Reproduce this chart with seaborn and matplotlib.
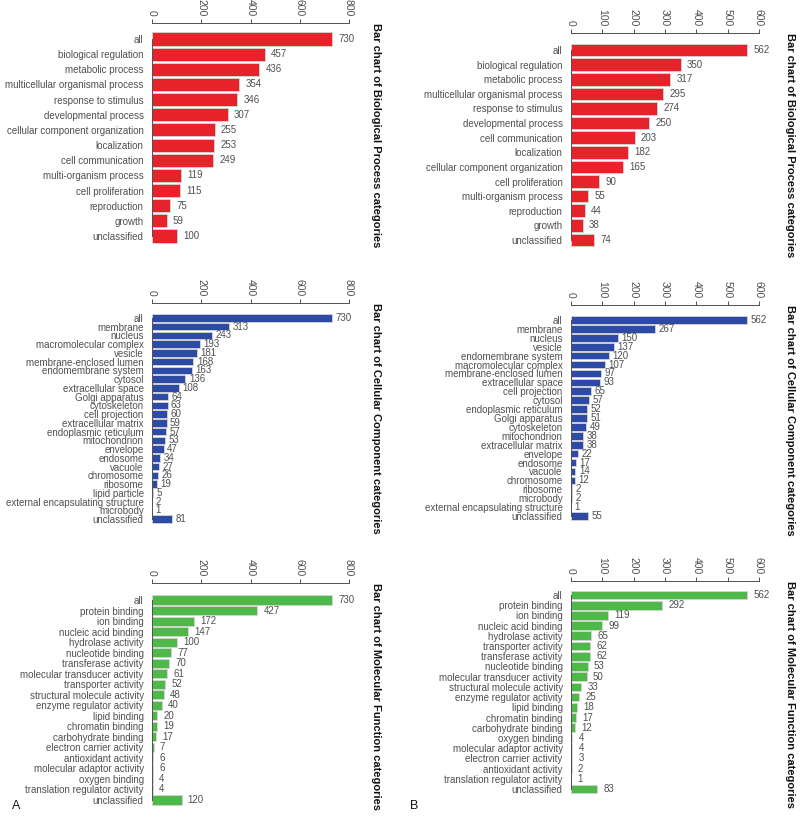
import matplotlib
matplotlib.use('Agg')
import matplotlib.pyplot as plt
import seaborn as sns
import pandas as pd

# --- data ---
bp_a_cats = ['all', 'biological regulation', 'metabolic process', 'multicellular organismal process',
             'response to stimulus', 'developmental process', 'cellular component organization',
             'localization', 'cell communication', 'multi-organism process', 'cell proliferation',
             'reproduction', 'growth', 'unclassified']
bp_a_vals = [730, 457, 436, 354, 346, 307, 255, 253, 249, 119, 115, 75, 59, 100]

bp_b_cats = ['all', 'biological regulation', 'metabolic process', 'multicellular organismal process',
             'response to stimulus', 'developmental process', 'cell communication', 'localization',
             'cellular component organization', 'cell proliferation', 'multi-organism process',
             'reproduction', 'growth', 'unclassified']
bp_b_vals = [562, 350, 317, 295, 274, 250, 203, 182, 165, 90, 55, 44, 38, 74]

cc_a_cats = ['all', 'membrane', 'nucleus', 'macromolecular complex', 'vesicle', 'membrane-enclosed lumen',
             'endomembrane system', 'cytosol', 'extracellular space', 'Golgi apparatus', 'cytoskeleton',
             'cell projection', 'extracellular matrix', 'endoplasmic reticulum', 'mitochondrion', 'envelope',
             'endosome', 'vacuole', 'chromosome', 'ribosome', 'lipid particle',
             'external encapsulating structure', 'microbody', 'unclassified']
cc_a_vals = [730, 313, 243, 193, 181, 168, 163, 136, 108, 64, 63, 60, 59, 57, 53, 47, 34, 27, 26, 19, 5, 2, 1, 81]

cc_b_cats = ['all', 'membrane', 'nucleus', 'vesicle', 'endomembrane system', 'macromolecular complex',
             'membrane-enclosed lumen', 'extracellular space', 'cell projection', 'cytosol',
             'endoplasmic reticulum', 'Golgi apparatus', 'cytoskeleton', 'mitochondrion',
             'extracellular matrix', 'envelope', 'endosome', 'vacuole', 'chromosome', 'ribosome',
             'microbody', 'external encapsulating structure', 'unclassified']
cc_b_vals = [562, 267, 150, 137, 120, 107, 97, 93, 65, 57, 52, 51, 49, 38, 38, 22, 17, 14, 12, 2, 2, 1, 55]

mf_a_cats = ['all', 'protein binding', 'ion binding', 'nucleic acid binding', 'hydrolase activity',
             'nucleotide binding', 'transferase activity', 'molecular transducer activity',
             'transporter activity', 'structural molecule activity', 'enzyme regulator activity',
             'lipid binding', 'chromatin binding', 'carbohydrate binding', 'electron carrier activity',
             'antioxidant activity', 'molecular adaptor activity', 'oxygen binding',
             'translation regulator activity', 'unclassified']
mf_a_vals = [730, 427, 172, 147, 100, 77, 70, 61, 52, 48, 40, 20, 19, 17, 7, 6, 6, 4, 4, 120]

mf_b_cats = ['all', 'protein binding', 'ion binding', 'nucleic acid binding', 'hydrolase activity',
             'transporter activity', 'transferase activity', 'nucleotide binding',
             'molecular transducer activity', 'structural molecule activity', 'enzyme regulator activity',
             'lipid binding', 'chromatin binding', 'carbohydrate binding', 'oxygen binding',
             'molecular adaptor activity', 'electron carrier activity', 'antioxidant activity',
             'translation regulator activity', 'unclassified']
mf_b_vals = [562, 292, 119, 99, 65, 62, 62, 53, 50, 33, 25, 18, 17, 12, 4, 4, 3, 2, 1, 83]

bp_title = 'Bar chart of Biological Process categories'
cc_title = 'Bar chart of Cellular Component categories'
mf_title = 'Bar chart of Molecular Function categories'

ticks_a = [0, 200, 400, 600, 800]
ticks_b = [0, 100, 200, 300, 400, 500, 600]

RED, BLUE, GREEN = '#E6222A', '#2D4AA5', '#4EB849'
TXT = '#505050'

sns.set_style('white')
plt.rcParams['font.family'] = ['Liberation Sans', 'DejaVu Sans']

W, H = 800, 817
fig = plt.figure(figsize=(W / 100, H / 100), dpi=100)


def panel(cats, vals, ticks, color, title, x0, x1, axis_y, first, last, title_x, gap):
    n = len(cats)
    step = (last - first) / (n - 1)
    bottom_px = last + 0.7 * step
    ax = fig.add_axes([x0 / W, 1 - bottom_px / H, (x1 - x0) / W, (bottom_px - axis_y) / H])
    df = pd.DataFrame({'category': cats, 'count': vals})
    sns.barplot(data=df, x='count', y='category', orient='h', color=color, saturation=1,
                width=0.86, edgecolor='#d5d5d5', linewidth=0.6, ax=ax)
    ax.set_xlim(0, ticks[-1])
    ax.set_ylim(n - 1 + 0.7, -(first - axis_y) / step)
    ax.set_xlabel('')
    ax.set_ylabel('')
    ax.xaxis.set_ticks_position('top')
    ax.set_xticks(ticks)
    ax.set_xticklabels([str(t) for t in ticks], rotation=270)
    ax.tick_params(axis='x', labelsize=7.5, length=3, pad=2, colors=TXT, width=0.7)
    ax.tick_params(axis='y', labelsize=7, length=4, pad=2, colors=TXT, width=0.7)
    for s in ['right', 'bottom']:
        ax.spines[s].set_visible(False)
    ax.spines['top'].set_color(TXT)
    ax.spines['left'].set_color(TXT)
    ax.spines['top'].set_linewidth(0.7)
    ax.spines['left'].set_linewidth(0.7)
    ax.spines['left'].set_bounds(0, n - 1)
    for i, v in enumerate(vals):
        ax.annotate(str(v), (v, i), xytext=(gap, 0), textcoords='offset points',
                    va='center', ha='left', fontsize=7, color=TXT, annotation_clip=False)
    fig.text(title_x / W, 1 - axis_y / H, title, rotation=270, ha='center', va='top',
             fontsize=8, fontweight='bold', color='#111111')


panel(bp_a_cats, bp_a_vals, ticks_a, RED, bp_title, 152, 349, 23, 39, 236, 376, 4.5)
panel(bp_b_cats, bp_b_vals, ticks_b, RED, bp_title, 571, 759, 33, 50, 240, 790, 4.5)
panel(cc_a_cats, cc_a_vals, ticks_a, BLUE, cc_title, 152, 349, 303, 318, 519, 376, 2.5)
panel(cc_b_cats, cc_b_vals, ticks_b, BLUE, cc_title, 571, 759, 305, 320, 516, 790, 2.5)
panel(mf_a_cats, mf_a_vals, ticks_a, GREEN, mf_title, 152, 349, 583, 600, 800, 376, 4.5)
panel(mf_b_cats, mf_b_vals, ticks_b, GREEN, mf_title, 571, 759, 581, 595, 789, 790, 4.5)

fig.text(12 / W, 1 - 806 / H, 'A', fontsize=9, ha='left', va='center', color='#111111')
fig.text(410 / W, 1 - 806 / H, 'B', fontsize=9, ha='left', va='center', color='#111111')

plt.savefig('out.png', dpi=100)
